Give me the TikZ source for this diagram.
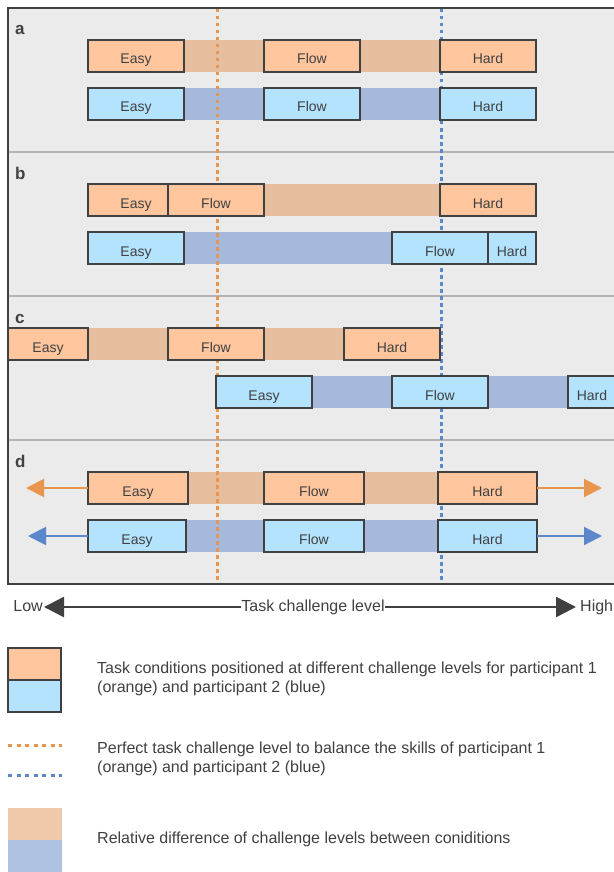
\documentclass[tikz,border=0pt]{standalone}
\usepackage{fontspec}
\setmainfont{Liberation Sans}
\usetikzlibrary{arrows.meta}
\definecolor{framec}{HTML}{404040}
\definecolor{panelbg}{HTML}{EBEBEB}
\definecolor{sepline}{HTML}{B4B4B4}
\definecolor{ofill}{HTML}{FFC69E}
\definecolor{bfill}{HTML}{B3E3FF}
\definecolor{obarc}{HTML}{E6BE9E}
\definecolor{bbarc}{HTML}{A6B9DA}
\definecolor{lgobar}{HTML}{F0C9AA}
\definecolor{lgbbar}{HTML}{B0C2E2}
\definecolor{odot}{HTML}{E8964F}
\definecolor{bdot}{HTML}{5B87CC}
\definecolor{txt}{HTML}{404040}
\pgfdeclarelayer{bg}
\pgfdeclarelayer{bars}
\pgfdeclarelayer{dots}
\pgfsetlayers{bg,bars,dots,main}
\begin{document}
\begin{tikzpicture}[x=1pt,y=-1pt,
  font=\fontsize{14}{16}\selectfont, text=txt,
  cond/.style={draw=framec, line width=2pt, minimum height=32pt, inner sep=0pt,
    outer sep=0pt, anchor=north west, text height=16pt, text depth=0pt},
  obox/.style={cond, fill=ofill},
  bbox/.style={cond, fill=bfill},
  obar/.style={fill=obarc},
  bbar/.style={fill=bbarc},
  odotted/.style={draw=odot, line width=3pt, dash pattern=on 3.5pt off 3.5pt},
  bdotted/.style={draw=bdot, line width=3pt, dash pattern=on 3.5pt off 3.5pt},
  oarrow/.style={draw=odot, line width=2pt, -{Triangle[length=18pt,width=18pt]}},
  barrow/.style={draw=bdot, line width=2pt, -{Triangle[length=18pt,width=18pt]}},
  axisarrow/.style={draw=framec, line width=2.5pt, -{Triangle[length=20pt,width=20pt]}},
  axtext/.style={font=\fontsize{16}{19}\selectfont, text height=11.5pt, text depth=3.5pt},
  plabel/.style={font=\fontsize{17}{20}\selectfont\bfseries, anchor=base west, inner sep=0pt},
  legtext/.style={anchor=west, align=left, inner sep=0pt,
    font=\fontsize{16}{18.5}\selectfont},
  legbox/.style={draw=framec, line width=2pt, minimum width=53pt, minimum height=32pt,
    inner sep=0pt, outer sep=0pt, anchor=north west}
]
\useasboundingbox (0,0) rectangle (613,872);

% frame and panels
\begin{pgfonlayer}{bg}
  \fill[panelbg] (8,8) rectangle (625,584);
  \draw[sepline, line width=1.5pt] (8,152) -- (625,152);
  \draw[sepline, line width=1.5pt] (8,296) -- (625,296);
  \draw[sepline, line width=1.5pt] (8,440) -- (625,440);
  \draw[framec, line width=2pt] (625,8) -- (8,8) -- (8,584) -- (625,584);
\end{pgfonlayer}

\node[plabel] (la) at (15,35) {a};
\node[plabel] (lb) at (15,179) {b};
\node[plabel] (lc) at (15,323) {c};
\node[plabel] (ld) at (15,467) {d};

% dotted reference lines
\coordinate (otop) at (217,9);
\coordinate (obot) at (217,582);
\coordinate (btop) at (441,9);
\coordinate (bbot) at (441,582);
\begin{pgfonlayer}{dots}
  \draw[odotted] (otop) -- (obot);
  \draw[bdotted] (btop) -- (bbot);
\end{pgfonlayer}

% panel a
\node[obox, minimum width=96pt] (aOE) at (88,40) {Easy};
\node[obox, minimum width=96pt] (aOF) at (264,40) {Flow};
\node[obox, minimum width=96pt] (aOH) at (440,40) {Hard};
\node[bbox, minimum width=96pt] (aBE) at (88,88) {Easy};
\node[bbox, minimum width=96pt] (aBF) at (264,88) {Flow};
\node[bbox, minimum width=96pt] (aBH) at (440,88) {Hard};

% panel b
\node[obox, minimum width=96pt] (bOE) at (88,184) {Easy};
\node[obox, minimum width=96pt] (bOF) at (168,184) {Flow};
\node[obox, minimum width=96pt] (bOH) at (440,184) {Hard};
\node[bbox, minimum width=96pt] (bBE) at (88,232) {Easy};
\node[bbox, minimum width=96pt] (bBF) at (392,232) {Flow};
\node[bbox, minimum width=48pt] (bBH) at (488,232) {Hard};

% panel c
\node[obox, minimum width=80pt] (cOE) at (8,328) {Easy};
\node[obox, minimum width=96pt] (cOF) at (168,328) {Flow};
\node[obox, minimum width=96pt] (cOH) at (344,328) {Hard};
\node[bbox, minimum width=96pt] (cBE) at (216,376) {Easy};
\node[bbox, minimum width=96pt] (cBF) at (392,376) {Flow};
\node[bbox, minimum width=48pt] (cBH) at (568,376) {Hard};

% panel d
\node[obox, minimum width=100pt] (dOE) at (88,472) {Easy};
\node[obox, minimum width=100pt] (dOF) at (264,472) {Flow};
\node[obox, minimum width=99pt] (dOH) at (438,472) {Hard};
\node[bbox, minimum width=98pt] (dBE) at (88,520) {Easy};
\node[bbox, minimum width=100pt] (dBF) at (264,520) {Flow};
\node[bbox, minimum width=99pt] (dBH) at (438,520) {Hard};

% bars
\begin{pgfonlayer}{bars}
  \fill[obar] (aOE.north east) rectangle (aOH.south west);
  \fill[bbar] (aBE.north east) rectangle (aBH.south west);
  \fill[obar] (bOF.north east) rectangle (bOH.south west);
  \fill[bbar] (bBE.north east) rectangle (bBF.south west);
  \fill[obar] (cOE.north east) rectangle (cOH.south west);
  \fill[bbar] (cBE.north east) rectangle (cBH.south west);
  \fill[obar] (dOE.north east) rectangle (dOH.south west);
  \fill[bbar] (dBE.north east) rectangle (dBH.south west);
\end{pgfonlayer}

% panel d arrows
\coordinate (dOL) at (26,488);
\coordinate (dOR) at (602,488);
\coordinate (dBL) at (28,536);
\coordinate (dBR) at (602,536);
\draw[oarrow] (dOE.west) -- (dOL);
\draw[oarrow] (dOH.east) -- (dOR);
\draw[barrow] (dBE.west) -- (dBL);
\draw[barrow] (dBH.east) -- (dBR);

% axis
\node[axtext, inner sep=0.5pt] (axl) at (313,607) {Task challenge level};
\coordinate (lowend) at (44,607);
\coordinate (highend) at (576,607);
\draw[axisarrow] (axl.west) -- (lowend);
\draw[axisarrow] (axl.east) -- (highend);
\node[axtext, anchor=east, inner sep=1pt] (lowl) at (lowend) {Low};
\node[axtext, anchor=west, inner sep=4pt] (highl) at (highend) {High};

% legend
\node[legbox, fill=ofill] (lgO) at (8,648) {};
\node[legbox, fill=bfill] (lgB) at (8,680) {};
\node[legtext] (lgT1) at (97,679) {Task conditions positioned at different challenge levels for participant 1\\(orange) and participant 2 (blue)};

\coordinate (ldo1) at (8,745);
\coordinate (ldo2) at (62,745);
\coordinate (ldb1) at (8,775);
\coordinate (ldb2) at (62,775);
\draw[odotted, dash pattern=on 4pt off 4.5pt] (ldo1) -- (ldo2);
\draw[bdotted, dash pattern=on 4pt off 4.5pt] (ldb1) -- (ldb2);
\node[legtext] (lgT2) at (97,759) {Perfect task challenge level to balance the skills of participant 1\\(orange) and participant 2 (blue)};

\fill[lgobar] (8,808) rectangle (62,840);
\fill[lgbbar] (8,840) rectangle (62,872);
\node[legtext] (lgT3) at (97,839) {Relative difference of challenge levels between coniditions};
\end{tikzpicture}
\end{document}
